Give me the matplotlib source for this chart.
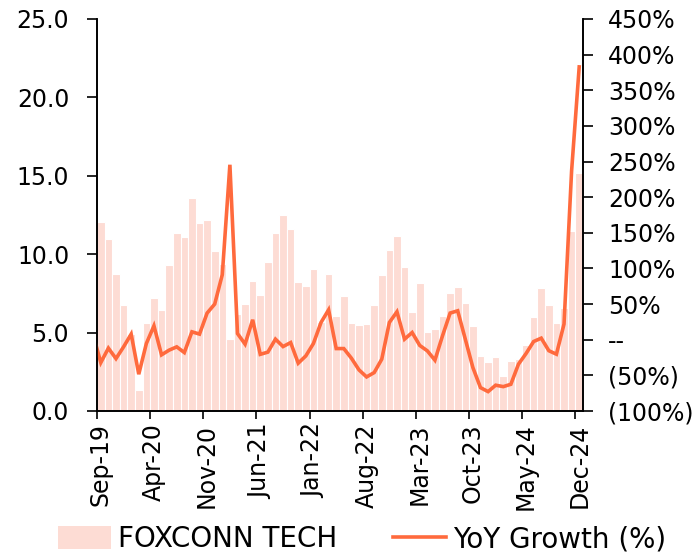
import matplotlib
matplotlib.use("Agg")
import matplotlib.pyplot as plt
import matplotlib.ticker as mticker
from matplotlib.patches import Patch
from matplotlib.lines import Line2D
import numpy as np

plt.rcParams['font.family'] = ['DejaVu Sans']

BAR_COLOR = "#fddcd4"
LINE_COLOR = "#ff6a3d"

# monthly, Sep-19 .. Dec-24
months = ["Sep-19", "Oct-19", "Nov-19", "Dec-19",
          "Jan-20", "Feb-20", "Mar-20", "Apr-20", "May-20", "Jun-20",
          "Jul-20", "Aug-20", "Sep-20", "Oct-20", "Nov-20", "Dec-20",
          "Jan-21", "Feb-21", "Mar-21", "Apr-21", "May-21", "Jun-21",
          "Jul-21", "Aug-21", "Sep-21", "Oct-21", "Nov-21", "Dec-21",
          "Jan-22", "Feb-22", "Mar-22", "Apr-22", "May-22", "Jun-22",
          "Jul-22", "Aug-22", "Sep-22", "Oct-22", "Nov-22", "Dec-22",
          "Jan-23", "Feb-23", "Mar-23", "Apr-23", "May-23", "Jun-23",
          "Jul-23", "Aug-23", "Sep-23", "Oct-23", "Nov-23", "Dec-23",
          "Jan-24", "Feb-24", "Mar-24", "Apr-24", "May-24", "Jun-24",
          "Jul-24", "Aug-24", "Sep-24", "Oct-24", "Nov-24", "Dec-24"]

revenue = [12.05, 11.0, 8.74, 6.74,
           4.9, 1.34, 5.61, 7.23, 6.42, 9.29,
           11.35, 11.1, 13.56, 11.97, 12.16, 10.22,
           9.4, 4.61, 6.16, 6.8, 8.27, 7.4,
           9.48, 11.33, 12.5, 11.63, 8.23, 7.99,
           9.08, 5.7, 8.76, 6.06, 7.33, 5.63,
           5.46, 5.55, 6.76, 8.65, 10.29, 11.16,
           9.18, 6.33, 8.16, 5.04, 5.23, 6.06,
           7.55, 7.89, 6.89, 5.4, 3.53, 3.15,
           3.44, 2.23, 3.17, 3.32, 4.23, 6.0,
           7.84, 6.78, 5.61, 6.6, 11.5, 15.15]

# YoY growth (%), yoy_prev is Aug-19 (cut off at the left edge)
yoy_prev = 6.5
yoy = [-32.1, -11.8, -26.5, -10,
       7.9, -48.4, -5.3, 19.5, -21.2, -14.6,
       -10, -18, 11.1, 7.9, 37.4, 50,
       91.3, 245.5, 8.7, -6.2, 28, -20.5,
       -17.4, 0.8, -9.6, -4, -32.9, -22.7,
       -5.3, 24.2, 42, -12.4, -12.4, -25.9,
       -42.3, -52.2, -46.1, -27.3, 24.2, 39.2,
       0.8, 10.1, -8, -15.6, -28.7, 5.5,
       37.4, 40.6, 0.8, -39.1, -67.2, -72.8,
       -63.8, -65.8, -62.5, -34.3, -19.4, -2.5,
       2.2, -15.4, -20.3, 22, 237, 382.8]

n = len(months)
x = np.arange(n)

fig = plt.figure(figsize=(6.97, 5.54), dpi=100)
ax = fig.add_axes([97 / 697, 1 - 411 / 554, (583 - 97) / 697, (411 - 19) / 554])
ax2 = ax.twinx()

ax.bar(x + 0.5, revenue, width=1.0, color=BAR_COLOR, edgecolor="white", linewidth=0.8)
ax2.plot(np.concatenate([[-0.5], x + 0.5]), [yoy_prev] + yoy, color=LINE_COLOR, lw=2.6,
         solid_joinstyle="miter", clip_on=True)

ax.set_xlim(0, n)
ax.set_ylim(0, 25)
ax.set_yticks(np.arange(0, 25.1, 5))
ax.yaxis.set_major_formatter(mticker.FormatStrFormatter("%.1f"))

ax2.set_ylim(-100, 450)
ax2.set_yticks(np.arange(-100, 451, 50))

def pct(v, pos):
    if abs(v) < 1e-9:
        return "--"
    if v < 0:
        return f"({-v:.0f}%)"
    return f"{v:.0f}%"

ax2.yaxis.set_major_formatter(mticker.FuncFormatter(pct))

# ticks at month boundaries, labels in the middle of the month
tick_idx = list(range(0, n, 7))
ax.set_xticks(tick_idx)
ax.set_xticklabels([])
ax.set_xticks([i + 0.5 for i in tick_idx], minor=True)
ax.set_xticklabels([months[i] for i in tick_idx], minor=True, rotation=90, fontsize=17)
ax.tick_params(axis="x", which="minor", length=0, pad=9)
ax.tick_params(axis="x", which="major", length=6, width=1.2, direction="out")
ax.tick_params(axis="y", length=7, width=1.2, labelsize=17, pad=13)
ax2.tick_params(axis="y", length=7, width=1.2, labelsize=17, pad=11)

for a in (ax, ax2):
    a.spines["top"].set_visible(False)
    for s in ("left", "right", "bottom"):
        a.spines[s].set_linewidth(1.2)

handles = [Patch(facecolor=BAR_COLOR, edgecolor="none"),
           Line2D([0], [0], color=LINE_COLOR, lw=2.6)]
fig.legend(handles, ["FOXCONN TECH", "YoY Growth (%)"], loc="center",
           bbox_to_anchor=(0.52, 0.027), ncol=2, frameon=False, fontsize=20,
           handlelength=1.9, handleheight=0.85, columnspacing=2.0, handletextpad=0.26,
           borderpad=0.1)

fig.savefig("out.png", dpi=100)
